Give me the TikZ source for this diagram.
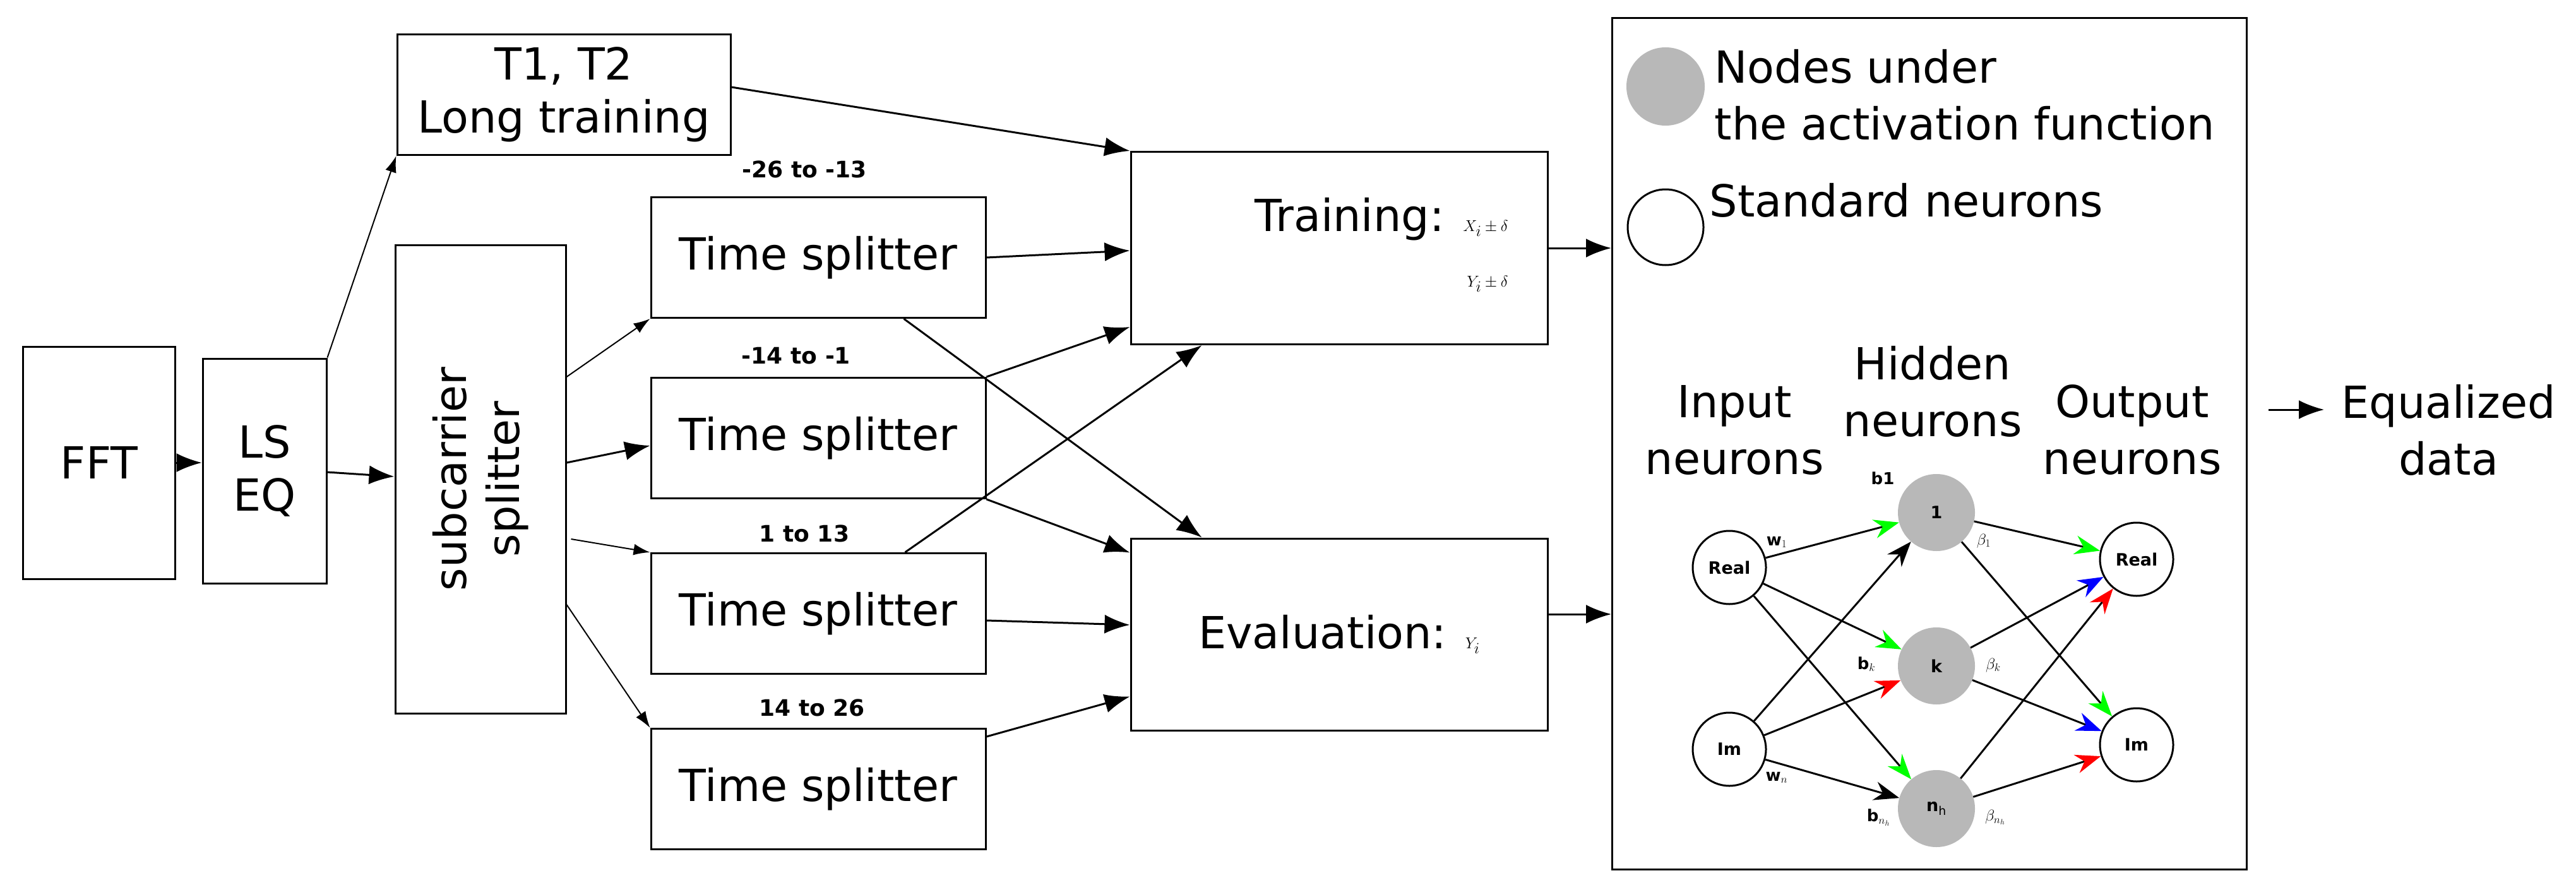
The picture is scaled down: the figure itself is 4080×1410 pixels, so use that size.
\documentclass[tikz,border=0pt]{standalone}
\usepackage{fontspec}
\setmainfont{DejaVu Sans}
\usetikzlibrary{arrows.meta,calc}
\begin{document}
\begin{tikzpicture}[x=1pt,y=-1pt,
  box/.style={draw,line width=3pt,inner sep=0pt,font=\fontsize{70}{84}\selectfont,align=center},
  thk/.style={line width=3pt,-{Latex[length=40,width=30]}},
  thn/.style={line width=2pt,-{Latex[length=26,width=18]}},
  lbl/.style={font=\bfseries\fontsize{36}{40}\selectfont},
  big/.style={font=\fontsize{70}{90}\selectfont,align=center},
  neu/.style={circle,draw,line width=3pt,minimum size=116pt,inner sep=0pt,font=\bfseries\fontsize{27}{30}\selectfont},
  hid/.style={circle,fill=black!28,minimum size=122pt,inner sep=0pt,font=\bfseries\fontsize{27}{30}\selectfont},
  nn/.style={line width=3pt},
  ep/.style={font=\bfseries\fontsize{26}{30}\selectfont},
  tg/.style={-{Stealth[length=40,width=30,color=green]}},
  tr/.style={-{Stealth[length=40,width=30,color=red]}},
  tb/.style={-{Stealth[length=40,width=30,color=blue]}},
  tk/.style={-{Stealth[length=40,width=30,color=black]}}]
\useasboundingbox (0,0) rectangle (4080,1410);
\fill[white] (0,0) rectangle (4080,1410);
% blocks
\node[box,minimum width=241,minimum height=368] (fft) at (157,733) {FFT};
\node[box,minimum width=196,minimum height=356] (ls) at (419,746) {LS\\EQ};
\node[box,minimum width=528,minimum height=191] (t12) at (893,150) {T1, T2\\Long training};
\node[box,minimum width=270,minimum height=742] (sub) at (761,759) {};
\node[font=\fontsize{70}{84}\selectfont,align=center,rotate=90] (subt) at (sub.center) {subcarrier\\splitter};
\node[box,minimum width=530,minimum height=191] (ts1) at (1296,408) {Time splitter};
\node[box,minimum width=530,minimum height=191] (ts2) at (1296,694) {Time splitter};
\node[box,minimum width=530,minimum height=191] (ts3) at (1296,972) {Time splitter};
\node[box,minimum width=530,minimum height=191] (ts4) at (1296,1250) {Time splitter};
\node[lbl] (l1) at (1274,268) {-26 to -13};
\node[lbl] (l2) at (1261,564) {-14 to -1};
\node[lbl] (l3) at (1274,845) {1 to 13};
\node[lbl] (l4) at (1286,1121) {14 to 26};
\node[box,minimum width=660,minimum height=305] (train) at (2121,393) {};
\node[font=\fontsize{70}{88}\selectfont,align=right,anchor=east] (traint) at (2392,388) {Training: $X_i\pm\delta$\\$Y_i\pm\delta$};
\node[box,minimum width=660,minimum height=304] (eval) at (2121,1005) {Evaluation: $Y_i$};
\node[draw,line width=3pt,minimum width=1005,minimum height=1349,inner sep=0pt] (bigb) at (3056,703) {};
% connectors left
\draw[thk] (fft.east) -- (ls.west |- fft.east);
\draw[thk] ($(ls.east)+(0,2)$) -- ($(sub.west)+(0,-4)$);
\draw[thn] (ls.north east) -- (t12.south west);
\draw[thn] ($(sub.east)+(0,-162)$) -- (ts1.south west);
\draw[thk] ($(sub.east)+(0,-26)$) -- ($(ts2.west)+(0,12)$);
\draw[thn] ($(sub.east)+(7,95)$) -- (ts3.north west);
\draw[thn] ($(sub.east)+(0,199)$) -- (ts4.north west);
\draw[thk] ($(t12.east)+(0,-12)$) -- (train.north west);
\draw[thk] (ts1.east) -- ($(train.west)+(0,4)$);
\draw[thk] ($(ts1.south west)+(402,0)$) -- ($(eval.north west)+(114,0)$);
\draw[thk] (ts2.north east) -- ($(train.south west)+(0,-29)$);
\draw[thk] (ts2.south east) -- ($(eval.north west)+(0,24)$);
\draw[thk] ($(ts3.north west)+(404,0)$) -- ($(train.south west)+(114,0)$);
\draw[thk] ($(ts3.east)+(0,11)$) -- ($(eval.west)+(0,-15)$);
\draw[thk] ($(ts4.north east)+(0,14)$) -- ($(eval.south west)+(0,-55)$);
\draw[thk] (train.east) -- (train.east -| bigb.west);
\draw[thk] ($(eval.east)+(0,-32)$) -- ($(eval.east -| bigb.west)+(0,-32)$);
% legend
\node[circle,fill=black!28,minimum size=124pt,inner sep=0pt] (lg1) at (2638,137) {};
\node[circle,draw,line width=3pt,minimum size=120pt,inner sep=0pt] (lg2) at (2638,360) {};
\node[big,align=left,anchor=west] (lgt1) at (2712,150) {Nodes under\\the activation function};
\node[big,align=left,anchor=west] (lgt2) at (2704,317) {Standard neurons};
\node[big] (hin) at (2747,681) {Input\\neurons};
\node[big] (hhd) at (3061,620) {Hidden\\neurons};
\node[big] (hout) at (3377,681) {Output\\neurons};
\node[big] (eq) at (3878,681) {Equalized\\data};
\draw[thk] ($(bigb.east)+(33,-54)$) -- ++(88,0);
% network
\node[neu] (ir) at (2739,899) {Real};
\node[neu] (ii) at (2739,1187) {Im};
\node[hid] (h1) at (3067,812) {1};
\node[hid] (hk) at (3067,1055) {k};
\node[hid] (hn) at (3067,1281) {n$_{\mathrm{h}}$};
\node[neu] (or) at (3384,886) {Real};
\node[neu] (oi) at (3384,1180) {Im};
\draw[nn,tg] (ir) -- (h1);
\draw[nn,tg] (ir) -- (hk);
\draw[nn,tg] (ir) -- (hn);
\draw[nn,tk] (ii) -- (h1);
\draw[nn,tr] (ii) -- (hk);
\draw[nn,tk] (ii) -- (hn);
\draw[nn,tg] (h1) -- (or);
\draw[nn,tg] (h1) -- (oi);
\draw[nn,tb] (hk) -- (or);
\draw[nn,tb] (hk) -- (oi);
\draw[nn,tr] (hn) -- (or);
\draw[nn,tr] (hn) -- (oi);
\node[ep] (eb1) at (2982,758) {b1};
\node[ep] (ew1) at (2814,859) {w$_1$};
\node[ep] (ebe1) at (3142,857) {$\beta_1$};
\node[ep] (ebk) at (2956,1052) {b$_k$};
\node[ep] (ebek) at (3157,1054) {$\beta_k$};
\node[ep] (ewn) at (2814,1232) {w$_n$};
\node[ep] (ebn) at (2975,1295) {b$_{n_h}$};
\node[ep] (eben) at (3160,1295) {$\beta_{n_h}$};
\end{tikzpicture}
\end{document}
